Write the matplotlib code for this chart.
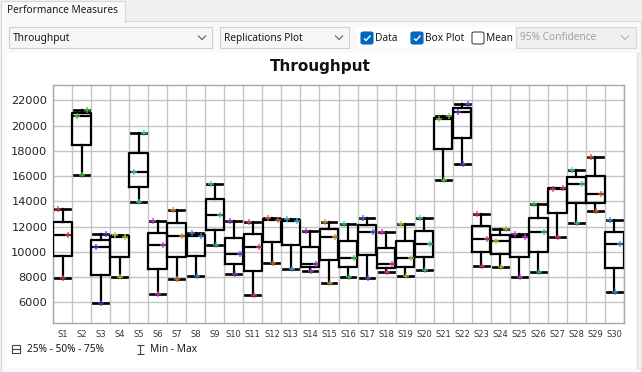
import numpy as np
import matplotlib
matplotlib.use("Agg")
import matplotlib.pyplot as plt
from matplotlib.patches import Rectangle, FancyBboxPatch
from matplotlib.lines import Line2D

W, H = 642, 372
dpi = 100

# scenario labels and the three replications per scenario
scenarios = ["S%d" % i for i in range(1, 31)]
rep1 = [13400, 20780, 10400, 11350, 16300, 12430, 13300, 11480, 15360, 12430,
        12380, 12650, 12580, 11670, 12380, 12220, 12700, 11590, 12200, 12700,
        20550, 21100, 13010, 10830, 11420, 13800, 14980, 16470, 17490, 12510]
rep2 = [11350, 21210, 11430, 11150, 19420, 10540, 11250, 11250, 12940, 9830,
        10410, 12500, 12430, 9050, 11200, 9540, 11560, 9040, 9540, 10640,
        20720, 21680, 11040, 11800, 11150, 11590, 15070, 15390, 14540, 10620]
rep3 = [7950, 16070, 5980, 8030, 13960, 6660, 7850, 8090, 10540, 8250,
        6590, 9090, 8640, 8510, 7530, 8030, 7900, 8430, 8110, 8590,
        15700, 16940, 8880, 8830, 8030, 8430, 11170, 12300, 13230, 6820]
point_colors = ['#d93c3c', '#3cc43c', '#3c3cd9', '#c8c83c', '#3cc8c8', '#c83cc8',
                '#d98a3c', '#3c8ad9', '#3cc87a', '#8a3cd9', '#d93c7a', '#d9643c',
                '#3cb4d9', '#9a3cd9', '#c8a03c', '#3cc864', '#3c64d9', '#d93ca0',
                '#b4c83c', '#3cc8b4', '#7ac83c', '#643cd9', '#d93c64', '#a0c83c',
                '#c83cc8', '#3cc850', '#d93c6e', '#3cc8c0', '#d9503c', '#3c8ad9']
y_ticks = [6000, 8000, 10000, 12000, 14000, 16000, 18000, 20000, 22000]


def fx(x):
    return x / W


def fy(y):
    return 1 - y / H


def rect(x, y, w, h, fc, ec='none', lw=0.8, z=0):
    fig.add_artist(Rectangle((fx(x), fy(y + h)), w / W, h / H,
                             transform=fig.transFigure, facecolor=fc,
                             edgecolor=ec, linewidth=lw, zorder=z))


def line(xs, ys, color, lw=0.8, z=2):
    fig.add_artist(Line2D([fx(v) for v in xs], [fy(v) for v in ys],
                          transform=fig.transFigure, color=color, lw=lw,
                          zorder=z, solid_capstyle='butt'))


def chevron(cx, cy, color='#606060'):
    line([cx - 4, cx, cx + 4], [cy - 2, cy + 2, cy - 2], color, lw=0.8)


def checkbox(x, y, checked):
    s = 12
    if checked:
        fig.add_artist(FancyBboxPatch((fx(x), fy(y + s)), s / W, s / H,
                                      boxstyle="round,pad=0,rounding_size=0.004",
                                      transform=fig.transFigure, fc='#0067c0',
                                      ec='#0067c0', lw=0.8, zorder=2))
        line([x + 3, x + 5, x + 9.5], [y + 6.5, y + 8.5, y + 3.5], 'white', lw=1.0, z=3)
    else:
        fig.add_artist(FancyBboxPatch((fx(x), fy(y + s)), s / W, s / H,
                                      boxstyle="round,pad=0,rounding_size=0.004",
                                      transform=fig.transFigure, fc='white',
                                      ec='#5a5a5a', lw=0.9, zorder=2))


fig = plt.figure(figsize=(W / dpi, H / dpi), dpi=dpi)
fig.patch.set_facecolor('#f0f0f0')

ui = dict(family=['Noto Sans', 'DejaVu Sans'], fontsize=7.3, color='#1a1a1a')

# window chrome
rect(0.5, 20.5, 640, 351, '#f9f9f9', '#d9d9d9')
rect(1, 0.5, 124, 21, '#f9f9f9', '#d9d9d9', z=1)
rect(1.6, 20, 122.8, 2.5, '#f9f9f9', z=1)
fig.text(fx(7), fy(10.5), "Performance Measures", va='center', ha='left', **ui)

# controls row
rect(9, 27, 203, 21, '#f6f6f6', '#d0d0d0')
fig.text(fx(13), fy(38), "Throughput", va='center', ha='left', **ui)
chevron(202, 37.5)
rect(220, 27, 129, 21, '#f6f6f6', '#d0d0d0')
fig.text(fx(224), fy(38), "Replications Plot", va='center', ha='left', **ui)
chevron(339, 37.5)
rect(357, 27, 158, 21, 'white')
checkbox(361, 32, True)
fig.text(fx(375), fy(38.5), "Data", va='center', ha='left', **ui)
checkbox(411, 32, True)
fig.text(fx(425), fy(38.5), "Box Plot", va='center', ha='left', **ui)
checkbox(472, 32, False)
fig.text(fx(486), fy(38.5), "Mean", va='center', ha='left', **ui)
rect(516, 27, 120, 21, '#f0f0f0', '#d8d8d8')
fig.text(fx(520), fy(38), "95% Confidence", va='center', ha='left',
         family=['Noto Sans', 'DejaVu Sans'], fontsize=7.3, color='#a0a0a0')
chevron(625, 37.5, '#b0b0b0')

# chart panel
rect(7, 53, 629, 315, 'white')
rect(636.5, 53, 5, 315, '#f0f0f0', '#e0e0e0')

fig.text(fx(320), fy(67), "Throughput", ha='center', va='center',
         fontsize=11, fontweight='bold', color='#111111', family='DejaVu Sans')

ax = fig.add_axes([fx(53), fy(323), (624 - 53) / W, (323 - 85) / H])
ax.set_facecolor('white')
ax.set_zorder(3)

n = len(scenarios)
pos = np.arange(1, n + 1)
data = [[a, b, c] for a, b, c in zip(rep1, rep2, rep3)]

lw = 1.6
ax.boxplot(data, positions=pos, widths=0.97, whis=(0, 100), showfliers=False,
           capwidths=0.78, manage_ticks=False,
           boxprops=dict(color='black', linewidth=lw),
           medianprops=dict(color='black', linewidth=lw),
           whiskerprops=dict(color='black', linewidth=lw),
           capprops=dict(color='black', linewidth=lw * 1.2),
           zorder=3)

# replication points: rep1 left, rep2 right, rep3 centre
for vals, off in ((rep1, -0.22), (rep2, 0.30), (rep3, 0.04)):
    for i, v in enumerate(vals):
        ax.plot(pos[i] + off, v, marker='+', color=point_colors[i], ms=5,
                mew=1.1, alpha=0.85, zorder=4, linestyle='none')

ax.set_xlim(0.5, n + 0.5)
ax.set_ylim(4360, 23210)
ax.set_yticks(y_ticks)
ax.set_yticklabels([str(t) for t in y_ticks])
ax.set_xticks(pos)
ax.set_xticklabels(scenarios)
ax.set_xticks(np.arange(0.5, n + 1, 1), minor=True)
ax.grid(True, which='minor', axis='x', color='#c4c4c4', lw=1.0, zorder=0)
ax.grid(True, which='major', axis='y', color='#c4c4c4', lw=1.0, zorder=0)
ax.set_axisbelow(True)
ax.tick_params(axis='both', which='both', length=0)
ax.tick_params(axis='y', pad=4, labelsize=8.2, labelcolor='#222222')
ax.tick_params(axis='x', pad=5, labelsize=6, labelcolor='#333333')
for lab in ax.get_xticklabels():
    lab.set_family(['Liberation Sans Narrow', 'DejaVu Sans'])
for lab in ax.get_yticklabels():
    lab.set_family('DejaVu Sans')
for s in ax.spines.values():
    s.set_color('#a8a8a8')
    s.set_linewidth(1.0)

# legend underneath
rect(12, 345, 8, 8, 'none', '#444444', lw=0.8, z=2)
line([12, 20], [349, 349], '#444444', lw=0.8)
fig.text(fx(27), fy(349.5), "25% - 50% - 75%", va='center', ha='left', **ui)
line([140, 140], [345, 354], '#444444', lw=0.8)
line([136.5, 143.5], [345, 345], '#444444', lw=0.8)
line([136.5, 143.5], [354, 354], '#444444', lw=0.8)
fig.text(fx(150), fy(349.5), "Min - Max", va='center', ha='left', **ui)

fig.savefig("out.png", dpi=dpi, facecolor=fig.get_facecolor())
